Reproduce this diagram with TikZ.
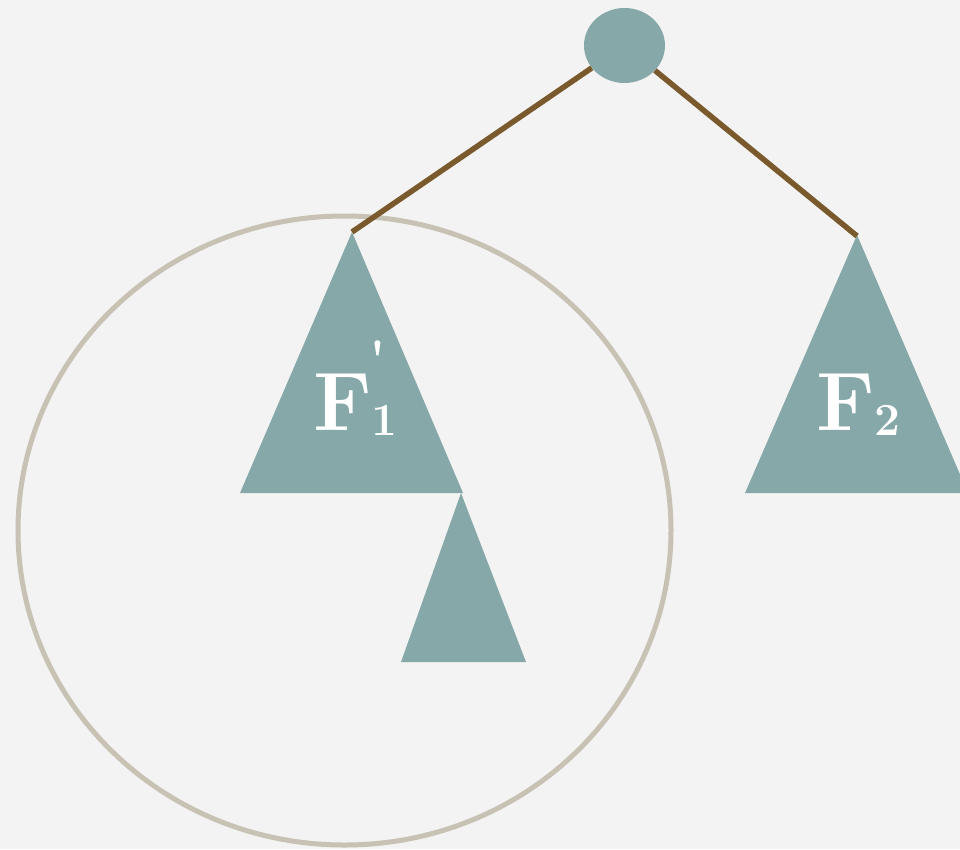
\documentclass[tikz,border=0pt]{standalone}
\usetikzlibrary{shapes.geometric}
\definecolor{bg}{HTML}{F3F3F3}
\definecolor{teal}{HTML}{87A8A8}
\definecolor{edge}{HTML}{7A5A2C}
\definecolor{ring}{HTML}{C8C2B4}
\newcommand{\bigF}{{\fontsize{83}{83}\selectfont\bfseries F}}
\newcommand{\subdig}[1]{\raisebox{-5pt}{\fontsize{46}{46}\selectfont\bfseries #1}}
\tikzset{
  tri/.style={fill=teal, draw=none},
  conn/.style={draw=edge, line width=5.5pt},
  lbl/.style={text=white, inner sep=0pt, anchor=base west}
}
\begin{document}
\begin{tikzpicture}[x=1pt,y=-1pt]
\fill[bg] (0,0) rectangle (960,849);
\useasboundingbox (0,0) rectangle (960,849);
% ring
\draw[ring, line width=5pt] (344.5,530.5) ellipse [x radius=326.5, y radius=314.5];
% triangles
\fill[tri] (352,232) -- (463,493) -- (240,493) -- cycle;
\fill[tri] (461,493) -- (526,662) -- (401,662) -- cycle;
\fill[tri] (857,235) -- (968,493) -- (745,493) -- cycle;
\coordinate (t1) at (352,232);
\coordinate (t2) at (857,236);
% root
\node[ellipse, fill=teal, minimum width=81pt, minimum height=75pt, inner sep=0pt] (root) at (624.5,45.5) {};
\draw[conn] (root) -- (t1);
\draw[conn] (root) -- (t2);
% labels
\node[lbl] (f1) at (313,430) {\bigF\hspace{0pt}\makebox[0pt][l]{\hspace{-2pt}\raisebox{52pt}{\fontsize{54}{54}\selectfont\bfseries\textquotesingle}}\subdig{1}};
\node[lbl] (f2) at (816,430) {\bigF\hspace{0pt}\subdig{2}};
\end{tikzpicture}
\end{document}
